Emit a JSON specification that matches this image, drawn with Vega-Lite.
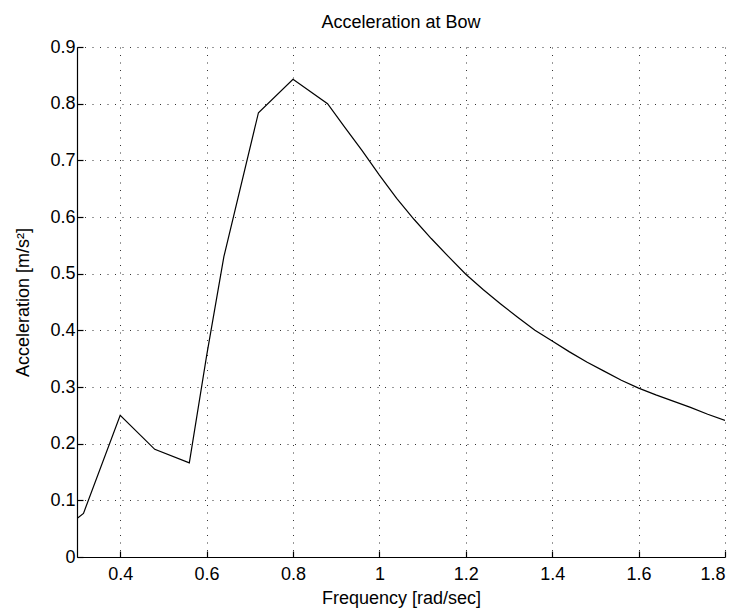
{
  "$schema": "https://vega.github.io/schema/vega-lite/v6.json",
  "width": 648,
  "height": 510,
  "autosize": {"type": "none"},
  "padding": {"left": 77, "top": 47, "right": 12, "bottom": 53},
  "background": "white",
  "title": {
    "text": "Acceleration at Bow",
    "font": "Liberation Sans",
    "fontSize": 18,
    "fontWeight": "normal",
    "color": "black",
    "baseline": "alphabetic",
    "offset": 18,
    "dy": 26,
    "anchor": "middle",
    "frame": "group"
  },
  "data": {
    "values": [
      {"freq": 0.30, "acc": 0.068},
      {"freq": 0.315, "acc": 0.077},
      {"freq": 0.40, "acc": 0.250},
      {"freq": 0.48, "acc": 0.190},
      {"freq": 0.56, "acc": 0.166},
      {"freq": 0.60, "acc": 0.355},
      {"freq": 0.64, "acc": 0.530},
      {"freq": 0.72, "acc": 0.784},
      {"freq": 0.80, "acc": 0.843},
      {"freq": 0.88, "acc": 0.800},
      {"freq": 0.92, "acc": 0.758},
      {"freq": 0.96, "acc": 0.717},
      {"freq": 1.00, "acc": 0.674},
      {"freq": 1.04, "acc": 0.633},
      {"freq": 1.08, "acc": 0.596},
      {"freq": 1.12, "acc": 0.562},
      {"freq": 1.16, "acc": 0.530},
      {"freq": 1.20, "acc": 0.499},
      {"freq": 1.24, "acc": 0.472},
      {"freq": 1.28, "acc": 0.447},
      {"freq": 1.32, "acc": 0.423},
      {"freq": 1.36, "acc": 0.400},
      {"freq": 1.40, "acc": 0.381},
      {"freq": 1.44, "acc": 0.362},
      {"freq": 1.48, "acc": 0.344},
      {"freq": 1.52, "acc": 0.328},
      {"freq": 1.56, "acc": 0.312},
      {"freq": 1.60, "acc": 0.298},
      {"freq": 1.64, "acc": 0.286},
      {"freq": 1.68, "acc": 0.275},
      {"freq": 1.72, "acc": 0.264},
      {"freq": 1.76, "acc": 0.252},
      {"freq": 1.80, "acc": 0.241}
    ]
  },
  "mark": {"type": "line", "color": "black", "strokeWidth": 1.2, "clip": true},
  "encoding": {
    "x": {
      "field": "freq",
      "type": "quantitative",
      "scale": {"domain": [0.3, 1.8], "nice": false, "zero": false},
      "axis": {
        "title": "Frequency [rad/sec]",
        "values": [0.4, 0.6, 0.8, 1.0, 1.2, 1.4, 1.6, 1.8],
        "format": "~g",
        "titleX": 324,
        "titleY": 41,
        "titleBaseline": "middle"
      }
    },
    "y": {
      "field": "acc",
      "type": "quantitative",
      "scale": {"domain": [0, 0.9], "nice": false},
      "axis": {
        "title": "Acceleration [m/s²]",
        "values": [0, 0.1, 0.2, 0.3, 0.4, 0.5, 0.6, 0.7, 0.8, 0.9],
        "format": "~g",
        "titleX": -54,
        "titleY": 255,
        "titleBaseline": "middle",
        "titleAngle": -90,
        "titleAlign": "center"
      }
    }
  },
  "config": {
    "view": {"stroke": null},
    "axis": {
      "labelFont": "Liberation Sans",
      "labelFontSize": 18,
      "labelColor": "black",
      "titleFont": "Liberation Sans",
      "titleFontSize": 18,
      "titleFontWeight": "normal",
      "titleColor": "black",
      "domainColor": "black",
      "domainWidth": 1.2,
      "tickColor": "black",
      "tickSize": -6,
      "tickWidth": 1.2,
      "labelPadding": 8,
      "grid": true,
      "gridColor": "black",
      "gridDash": [1, 6.5],
      "gridWidth": 1,
      "gridOpacity": 0.8
    },
    "axisX": {"labelPadding": 14}
  }
}
